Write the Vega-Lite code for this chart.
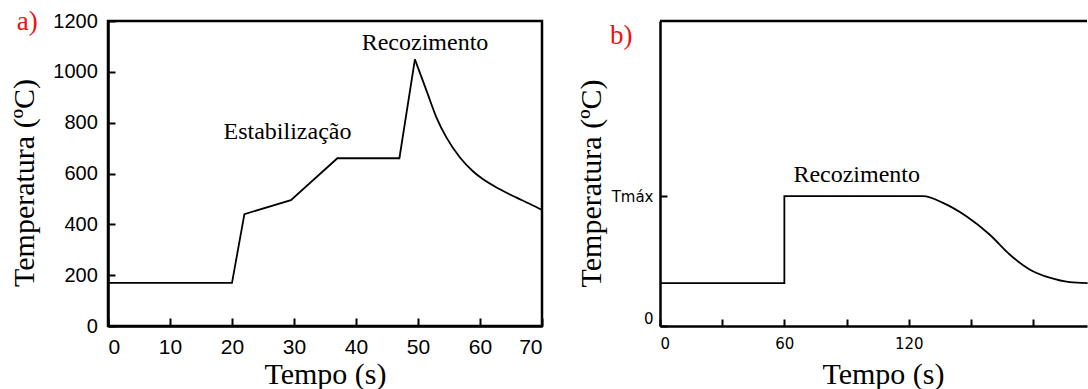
{
  "$schema": "https://vega.github.io/schema/vega-lite/v6.json",
  "background": "white",
  "padding": {"left": 7, "top": 6, "right": 0, "bottom": 0},
  "bounds": "flush",
  "spacing": 118,
  "config": {
    "view": {"stroke": null},
    "axis": {
      "grid": false,
      "domainColor": "black",
      "domainWidth": 2.5,
      "tickColor": "black",
      "tickWidth": 2,
      "labelColor": "black",
      "titleColor": "black",
      "titleFont": "Liberation Serif",
      "titleFontSize": 30,
      "titleFontWeight": "normal"
    }
  },
  "hconcat": [
    {
      "width": 434,
      "height": 305,
      "view": {"stroke": "black", "strokeWidth": 2.5},
      "layer": [
        {
          "data": {"values": [
            {"i": 1, "t": 0, "T": 170},
            {"i": 2, "t": 20, "T": 170},
            {"i": 3, "t": 22, "T": 440},
            {"i": 4, "t": 29.5, "T": 495},
            {"i": 5, "t": 37, "T": 660},
            {"i": 6, "t": 47, "T": 660},
            {"i": 7, "t": 49.5, "T": 1049}
          ]},
          "mark": {"type": "line", "color": "black", "strokeWidth": 1.8},
          "encoding": {
            "x": {
              "field": "t", "type": "quantitative",
              "scale": {"domain": [0, 70], "nice": false},
              "axis": {
                "title": "Tempo (s)",
                "values": [0, 10, 20, 30, 40, 50, 60, 70],
                "labelFont": "Liberation Sans", "labelFontSize": 21,
                "tickSize": -8, "labelPadding": 18,
                "titleBaseline": "middle", "titleY": 48
              }
            },
            "y": {
              "field": "T", "type": "quantitative",
              "scale": {"domain": [0, 1200], "nice": false},
              "axis": {
                "title": "Temperatura (ºC)",
                "values": [0, 200, 400, 600, 800, 1000, 1200],
                "format": "d",
                "labelFont": "Liberation Sans", "labelFontSize": 20,
                "tickSize": -7, "labelPadding": 17.7,
                "titleBaseline": "middle", "titleAlign": "center",
                "titleX": -84, "titleY": 161.5
              }
            },
            "order": {"field": "i", "type": "quantitative"}
          }
        },
        {
          "data": {"values": [
            {"t": 49.5, "T": 1049},
            {"t": 51.4, "T": 924},
            {"t": 53.0, "T": 819},
            {"t": 54.6, "T": 741},
            {"t": 56.8, "T": 662},
            {"t": 58.9, "T": 608},
            {"t": 60.5, "T": 577},
            {"t": 63.2, "T": 538},
            {"t": 65.9, "T": 505},
            {"t": 68.0, "T": 481},
            {"t": 70, "T": 456}
          ]},
          "mark": {"type": "line", "color": "black", "strokeWidth": 1.8, "interpolate": "monotone"},
          "encoding": {
            "x": {"field": "t", "type": "quantitative"},
            "y": {"field": "T", "type": "quantitative"}
          }
        },
        {
          "data": {"values": [
            {"t": 28.95, "T": 737, "label": "Estabilização"},
            {"t": 51.13, "T": 1085, "label": "Recozimento"}
          ]},
          "mark": {"type": "text", "font": "Liberation Serif", "fontSize": 24, "align": "center", "baseline": "alphabetic", "color": "black"},
          "encoding": {
            "x": {"field": "t", "type": "quantitative"},
            "y": {"field": "T", "type": "quantitative"},
            "text": {"field": "label"}
          }
        },
        {
          "data": {"values": [{"t": -14.7, "T": 1166, "label": "a)"}]},
          "mark": {"type": "text", "font": "Liberation Serif", "fontSize": 27, "align": "left", "baseline": "alphabetic", "color": "#ee1111"},
          "encoding": {
            "x": {"field": "t", "type": "quantitative"},
            "y": {"field": "T", "type": "quantitative"},
            "text": {"field": "label"}
          }
        }
      ]
    },
    {
      "width": 427,
      "height": 305,
      "layer": [
        {
          "data": {"values": [
            {"i": 1, "t": 0, "T": 33},
            {"i": 2, "t": 60, "T": 33},
            {"i": 3, "t": 60, "T": 100},
            {"i": 4, "t": 110, "T": 100}
          ]},
          "mark": {"type": "line", "color": "black", "strokeWidth": 1.8},
          "encoding": {
            "x": {
              "field": "t", "type": "quantitative",
              "scale": {"domain": [0, 206], "nice": false},
              "axis": {
                "title": "Tempo (s)",
                "values": [0, 30, 60, 90, 120, 150, 180],
                "labelExpr": "datum.value % 60 == 0 && datum.value <= 120 ? datum.label : ''",
                "labelFont": "DejaVu Sans", "labelFontSize": 15,
                "tickSize": -7, "labelPadding": 17,
                "titleBaseline": "middle", "titleX": 223, "titleY": 48
              }
            },
            "y": {
              "field": "T", "type": "quantitative",
              "scale": {"domain": [0, 235], "nice": false},
              "axis": {
                "title": "Temperatura (ºC)",
                "values": [0, 100],
                "labelExpr": "datum.value == 100 ? 'Tmáx' : '0'",
                "labelFont": "DejaVu Sans", "labelFontSize": 15,
                "labelFlush": true, "labelFlushOffset": 0,
                "tickSize": -7, "labelPadding": 14,
                "titleBaseline": "middle", "titleAlign": "center",
                "titleX": -69, "titleY": 162
              }
            },
            "order": {"field": "i", "type": "quantitative"}
          }
        },
        {
          "data": {"values": [
            {"t": 110, "T": 100},
            {"t": 120, "T": 100},
            {"t": 126.9, "T": 100},
            {"t": 136.5, "T": 94.9},
            {"t": 147.8, "T": 84.6},
            {"t": 159.0, "T": 70.5},
            {"t": 168.7, "T": 55.1},
            {"t": 178.3, "T": 43.6},
            {"t": 188.0, "T": 37.2},
            {"t": 197.6, "T": 33.8},
            {"t": 206.3, "T": 33.1}
          ]},
          "mark": {"type": "line", "color": "black", "strokeWidth": 1.8, "interpolate": "monotone"},
          "encoding": {
            "x": {"field": "t", "type": "quantitative"},
            "y": {"field": "T", "type": "quantitative"}
          }
        },
        {
          "data": {"values": [{"edge": 235}]},
          "mark": {"type": "rule", "color": "black", "strokeWidth": 2.5},
          "encoding": {"y": {"field": "edge", "type": "quantitative"}}
        },
        {
          "data": {"values": [{"t": 94.9, "T": 111.3, "label": "Recozimento"}]},
          "mark": {"type": "text", "font": "Liberation Serif", "fontSize": 24, "align": "center", "baseline": "alphabetic", "color": "black"},
          "encoding": {
            "x": {"field": "t", "type": "quantitative"},
            "y": {"field": "T", "type": "quantitative"},
            "text": {"field": "label"}
          }
        },
        {
          "data": {"values": [{"t": -24.1, "T": 217, "label": "b)"}]},
          "mark": {"type": "text", "font": "Liberation Serif", "fontSize": 27, "align": "left", "baseline": "alphabetic", "color": "#ee1111"},
          "encoding": {
            "x": {"field": "t", "type": "quantitative"},
            "y": {"field": "T", "type": "quantitative"},
            "text": {"field": "label"}
          }
        }
      ]
    }
  ]
}
